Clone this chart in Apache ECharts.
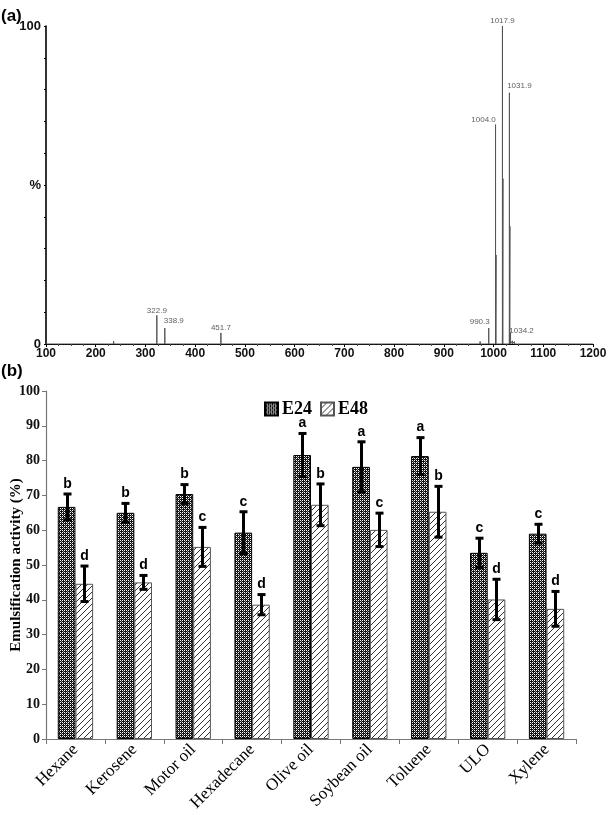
<!DOCTYPE html>
<html>
<head>
<meta charset="utf-8">
<script src="https://cdn.jsdelivr.net/npm/echarts@6/dist/echarts.min.js"></script>
<style>
html,body{margin:0;padding:0;background:#fff;}
#chart{width:610px;height:815px;}
</style>
</head>
<body>
<div id="chart"></div>
<script>
// ---------- Panel (a): mass spectrum ----------
const peakMz  = [228, 236, 241, 322.9, 338.9, 451.7, 973, 990.3, 1004.0, 1005.0, 1017.9, 1018.9, 1031.9, 1032.9, 1034.2, 1038, 1042, 1048];
const peakInt = [0.6, 0.9, 0.5, 9, 5, 3.5, 0.8, 5, 69, 28, 100, 52, 79, 37, 3.5, 1.0, 0.8, 0.6];
const labelledMz = [322.9, 338.9, 451.7, 990.3, 1004.0, 1017.9, 1031.9, 1034.2];

// ---------- Panel (b): emulsification activity ----------
const categories = ['Hexane', 'Kerosene', 'Motor oil', 'Hexadecane', 'Olive oil', 'Soybean oil', 'Toluene', 'ULO', 'Xylene'];
const e24    = [66.7, 65.0, 70.4, 59.3, 81.6, 78.2, 81.3, 53.5, 59.0];
const e24Err = [3.7, 2.7, 2.7, 6.0, 6.2, 7.2, 5.3, 4.2, 2.7];
const e48    = [44.6, 45.0, 55.2, 38.6, 67.3, 60.1, 65.3, 40.1, 37.4];
const e48Err = [5.1, 2.0, 5.6, 2.9, 6.0, 4.8, 7.3, 5.8, 5.0];
const e24Letters = ['b', 'b', 'b', 'c', 'a', 'a', 'a', 'c', 'c'];
const e48Letters = ['d', 'd', 'c', 'd', 'b', 'c', 'b', 'd', 'd'];

// ---------- patterns ----------
function checkerPattern() {
  const c = document.createElement('canvas');
  c.width = 4; c.height = 4;
  const g = c.getContext('2d');
  g.fillStyle = '#111'; g.fillRect(0, 0, 4, 4);
  g.fillStyle = '#fff';
  g.fillRect(0, 0, 1, 1); g.fillRect(2, 2, 1, 1);
  g.fillRect(2, 0, 1, 1); g.fillRect(0, 2, 1, 1);
  g.fillStyle = '#888';
  g.fillRect(1, 1, 1, 1); g.fillRect(3, 3, 1, 1);
  return c;
}
function hatchPattern() {
  const c = document.createElement('canvas');
  c.width = 6; c.height = 6;
  const g = c.getContext('2d');
  g.fillStyle = '#fff'; g.fillRect(0, 0, 6, 6);
  g.strokeStyle = '#333'; g.lineWidth = 1;
  g.beginPath();
  g.moveTo(-1, 7); g.lineTo(7, -1);
  g.stroke();
  return c;
}
const e24Fill = { image: checkerPattern(), repeat: 'repeat' };
const e48Fill = { image: hatchPattern(), repeat: 'repeat' };

// stick spectrum data
const sticks = [];
peakMz.forEach((m, i) => { sticks.push([m, 0], [m, peakInt[i]], [m, 0]); });
sticks.unshift([100, 0]); sticks.push([1200, 0]);

const labelStyle = {
  '322.9':  { offset: [0, 0] },
  '338.9':  { offset: [9, -2] },
  '451.7':  { offset: [0, 0] },
  '990.3':  { offset: [-9, -1] },
  '1004.0': { offset: [-12, 0] },
  '1017.9': { offset: [0, 0] },
  '1031.9': { offset: [10, -2] },
  '1034.2': { offset: [11, 3] }
};
const peakLabels = labelledMz.map(m => {
  const key = m.toFixed(1);
  return {
    value: [m, peakInt[peakMz.indexOf(m)]],
    label: { offset: labelStyle[key].offset }
  };
});

// error bar renderer
function errRender(side, vals, errs, letters) {
  return function (params, api) {
    const i = api.value(0);
    const v = vals[i], e = errs[i];
    const bw = api.size([1, 0])[0];
    const c = api.coord([i, v]);
    const x = Math.round(c[0] + side * bw * 0.15) + 0.5;
    const top = api.coord([i, v + e])[1];
    const bot = api.coord([i, v - e])[1];
    const style = { stroke: '#000', lineWidth: 3 };
    return {
      type: 'group',
      children: [
        { type: 'line', shape: { x1: x, y1: top, x2: x, y2: bot }, style: style },
        { type: 'line', shape: { x1: x - 4, y1: top, x2: x + 4, y2: top }, style: style },
        { type: 'line', shape: { x1: x - 4, y1: bot, x2: x + 4, y2: bot }, style: style },
        { type: 'text', x: x, y: top - 3, style: {
            text: letters[i], textAlign: 'center', textVerticalAlign: 'bottom',
            font: 'bold 14px "Liberation Sans", Arial, sans-serif', fill: '#000' } }
      ]
    };
  };
}

const chart = echarts.init(document.getElementById('chart'), null, { renderer: 'canvas' });
const sans = '"Liberation Sans", Arial, sans-serif';
const serif = '"Liberation Serif", "Times New Roman", serif';

chart.setOption({
  animation: false,
  backgroundColor: '#fff',
  graphic: [
    { type: 'text', left: 1, top: 8, style: { text: '(a)', font: 'bold 17px ' + sans, fill: '#000' } },
    { type: 'text', left: 1, top: 363, style: { text: '(b)', font: 'bold 17px ' + sans, fill: '#000' } }
  ],
  legend: {
    data: ['E24', 'E48'],
    left: 259, top: 395,
    itemWidth: 13, itemHeight: 13, itemGap: 8,
    icon: 'rect',
    textStyle: { fontFamily: serif, fontWeight: 'bold', fontSize: 18, color: '#000', padding: [0, 0, 0, -1] }
  },
  grid: [
    { left: 46, right: 17, top: 26, bottom: 471, outerBoundsMode: 'none', containLabel: false },
    { left: 46, right: 34, top: 391, bottom: 76, outerBoundsMode: 'none', containLabel: false }
  ],
  xAxis: [
    {
      gridIndex: 0, type: 'value', min: 100, max: 1200, interval: 100,
      name: 'm/z', nameLocation: 'end', nameGap: 3,
      nameTextStyle: { fontFamily: sans, fontSize: 9, color: '#222', verticalAlign: 'middle' },
      axisLine: { lineStyle: { color: '#000', width: 1.2 } },
      axisTick: { show: true, length: 3, lineStyle: { color: '#000' } },
      minorTick: { show: true, splitNumber: 4, length: 2, lineStyle: { color: '#444' } },
      axisLabel: { fontFamily: sans, fontWeight: 'bold', fontSize: 12, color: '#111', margin: 4,
        formatter: v => String(v) },
      splitLine: { show: false }
    },
    {
      gridIndex: 1, type: 'category', data: categories,
      axisLine: { lineStyle: { color: '#777', width: 1.2 } },
      axisTick: { show: true, length: 5, alignWithLabel: false, lineStyle: { color: '#777' } },
      axisLabel: { rotate: 45, fontFamily: serif, fontSize: 17, color: '#000', margin: 8, interval: 0 }
    }
  ],
  yAxis: [
    {
      gridIndex: 0, type: 'value', min: 0, max: 100, interval: 10,
      axisLine: { show: true, lineStyle: { color: '#000', width: 1.6 } },
      axisTick: { show: true, length: 2, lineStyle: { color: '#000' } },
      axisLabel: { fontFamily: sans, fontWeight: 'bold', fontSize: 13, color: '#111', margin: 5,
        formatter: v => (v === 100 ? '100' : v === 50 ? '%' : v === 0 ? '0' : '') },
      splitLine: { show: false }
    },
    {
      gridIndex: 1, type: 'value', min: 0, max: 100, interval: 10,
      name: 'Emulsification activity (%)', nameLocation: 'middle', nameGap: 22, nameMoveOverlap: false,
      nameTextStyle: { fontFamily: serif, fontWeight: 'bold', fontSize: 15, color: '#000' },
      axisLine: { show: true, lineStyle: { color: '#777', width: 1.2 } },
      axisTick: { show: true, length: 4, lineStyle: { color: '#777' } },
      axisLabel: { fontFamily: serif, fontWeight: 'bold', fontSize: 14, color: '#111', margin: 6 },
      splitLine: { show: false }
    }
  ],
  series: [
    {
      name: 'spectrum', type: 'line', xAxisIndex: 0, yAxisIndex: 0,
      data: sticks, showSymbol: false, symbol: 'none',
      lineStyle: { color: '#555', width: 1 }, z: 3
    },
    {
      name: 'peaklabels', type: 'scatter', xAxisIndex: 0, yAxisIndex: 0,
      data: peakLabels, symbolSize: 0, silent: true,
      label: { show: true, position: 'top', distance: 1, fontFamily: sans, fontSize: 8, color: '#333',
        formatter: p => p.value[0].toFixed(1) }
    },
    {
      name: 'E24', type: 'bar', xAxisIndex: 1, yAxisIndex: 1, data: e24,
      barGap: '0%', barCategoryGap: '40%',
      itemStyle: { color: e24Fill, borderColor: '#000', borderWidth: 1 }
    },
    {
      name: 'E48', type: 'bar', xAxisIndex: 1, yAxisIndex: 1, data: e48,
      barGap: '0%', barCategoryGap: '40%',
      itemStyle: { color: e48Fill, borderColor: '#555', borderWidth: 1 }
    },
    {
      name: 'errE24', type: 'custom', xAxisIndex: 1, yAxisIndex: 1,
      data: categories.map((c, i) => [i]), renderItem: errRender(-1, e24, e24Err, e24Letters), z: 5, silent: true
    },
    {
      name: 'errE48', type: 'custom', xAxisIndex: 1, yAxisIndex: 1,
      data: categories.map((c, i) => [i]), renderItem: errRender(1, e48, e48Err, e48Letters), z: 5, silent: true
    }
  ]
});
</script>
</body>
</html>
